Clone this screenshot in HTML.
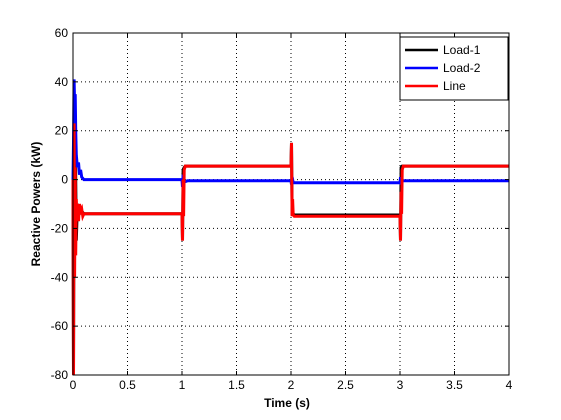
<!DOCTYPE html>
<html><head><meta charset="utf-8"><style>
html,body{margin:0;padding:0;background:#fff;}
svg{display:block;font-family:"Liberation Sans",Arial,sans-serif;}
</style></head><body>
<svg id="chart" width="561" height="420">
<rect x="0" y="0" width="561" height="420" fill="#fff"/>
<g id="grid"></g>
<g id="series"></g>
<rect x="73" y="33" width="436" height="342" fill="none" stroke="#000" stroke-width="1"/>
<g id="ticks"></g>
<text x="287" y="407" text-anchor="middle" font-size="12" font-weight="bold">Time (s)</text>
<text transform="translate(40,204) rotate(-90)" text-anchor="middle" font-size="12" font-weight="bold">Reactive Powers (kW)</text>
<g>
<rect x="400" y="37" width="108" height="63" fill="#fff" stroke="#000" stroke-width="1"/>
<line x1="405" y1="50" x2="438" y2="50" stroke="#000" stroke-width="2.5"/>
<text x="443" y="54" font-size="12">Load-1</text>
<line x1="405" y1="68" x2="438" y2="68" stroke="#0000ff" stroke-width="2.5"/>
<text x="443" y="72" font-size="12">Load-2</text>
<line x1="405" y1="86" x2="438" y2="86" stroke="#ff0000" stroke-width="2.5"/>
<text x="443" y="90" font-size="12">Line</text>
</g>
</svg>
<script>
const xTicks = [0,0.5,1,1.5,2,2.5,3,3.5,4];
const xTickLabels = ["0","0.5","1","1.5","2","2.5","3","3.5","4"];
const yTicks = [60,40,20,0,-20,-40,-60,-80];
const yTickLabels = ["60","40","20","0","-20","-40","-60","-80"];
const load1T = [0,0.005,0.01,0.015,0.02,0.03,0.04,0.05,0.06,0.08,0.1,0.15,1.0,1.005,1.01,1.02,1.03,1.04,2.0,2.005,2.01,2.02,2.03,3.0,3.005,3.01,3.02,3.03,4];
const load1V = [0,-80,20,-30,22,-25,-10,-12,-14,-13,-14,-14,-14,-25,4,5,5.5,5.5,5.5,15,-14,-14,-14.5,-14.5,-25,5,5.5,5.5,5.5];
const load2T = [0,0.005,0.01,0.015,0.02,0.025,0.03,0.04,0.05,0.06,0.07,0.08,0.1,0.15,1.0,1.005,1.01,1.02,1.05,2.0,2.005,2.01,2.02,2.05,3.0,3.005,3.01,3.02,3.05,4];
const load2V = [0,15,41,30,35,20,10,5,7,2,4,1,0,0,0,-3,2,-1,-0.5,-0.5,-2,1,-1.3,-1.3,-1.3,1,-2,-0.5,-0.5,-0.5];
const lineT = [0,0.005,0.01,0.015,0.02,0.025,0.03,0.035,0.04,0.05,0.06,0.07,0.08,0.09,0.1,0.15,1.0,1.005,1.01,1.015,1.02,1.03,1.05,2.0,2.005,2.01,2.015,2.02,2.03,2.05,3.0,3.005,3.01,3.015,3.02,3.03,3.05,4];
const lineV = [0,-80,23,-40,5,-31,-8,-15,-10,-17,-10,-13,-12,-15,-14,-14,-14,-25,0,-15,4,5.5,5.5,5.5,15,-15,-8,-14.5,-15,-15,-15,-25,-5,-14,4,5.5,5.5,5.5];
const NS='http://www.w3.org/2000/svg';
function X(t){return 73+t*109;}
function Y(v){return 33+(60-v)*342/140;}
const grid=document.getElementById('grid'), ticks=document.getElementById('ticks'), series=document.getElementById('series');
function mk(tag,attrs,parent){const e=document.createElementNS(NS,tag);for(const k in attrs)e.setAttribute(k,attrs[k]);parent.appendChild(e);return e;}
xTicks.forEach((t,i)=>{
  const x=X(t);
  if(i>0&&i<xTicks.length-1){const g=mk('line',{x1:x,y1:33,x2:x,y2:375,stroke:'#000','stroke-width':1,'stroke-dasharray':'1,3'},grid);
  
  }
  const a=mk('line',{x1:x,y1:375,x2:x,y2:371,stroke:'#000'},ticks);
  
  
  const b=mk('line',{x1:x,y1:33,x2:x,y2:37,stroke:'#000'},ticks);
  
  
  const tx=mk('text',{x:x,y:389,'text-anchor':'middle','font-size':12},ticks);
  tx.textContent=xTickLabels[i];
  
  
});
yTicks.forEach((v,i)=>{
  const y=Y(v);
  if(i>0&&i<yTicks.length-1){const g=mk('line',{x1:73,y1:y,x2:509,y2:y,stroke:'#000','stroke-width':1,'stroke-dasharray':'1,3'},grid);
  
  }
  const a=mk('line',{x1:73,y1:y,x2:77,y2:y,stroke:'#000'},ticks);
  
  
  const b=mk('line',{x1:509,y1:y,x2:505,y2:y,stroke:'#000'},ticks);
  
  
  const tx=mk('text',{x:68,y:y+4,'text-anchor':'end','font-size':12},ticks);
  tx.textContent=yTickLabels[i];
  
  
});
function draw(T,V,color,name){
  const pts=T.map((t,i)=>X(t).toFixed(1)+','+Y(V[i]).toFixed(1)).join(' ');
  const p=mk('polyline',{points:pts,fill:'none',stroke:color,'stroke-width':3,'stroke-linejoin':'miter'},series);
  
  
}
draw(load1T,load1V,'#000','series-load1');
draw(load2T,load2V,'#0000ff','series-load2');
draw(lineT,lineV,'#ff0000','series-line');
</script>
</body></html>
